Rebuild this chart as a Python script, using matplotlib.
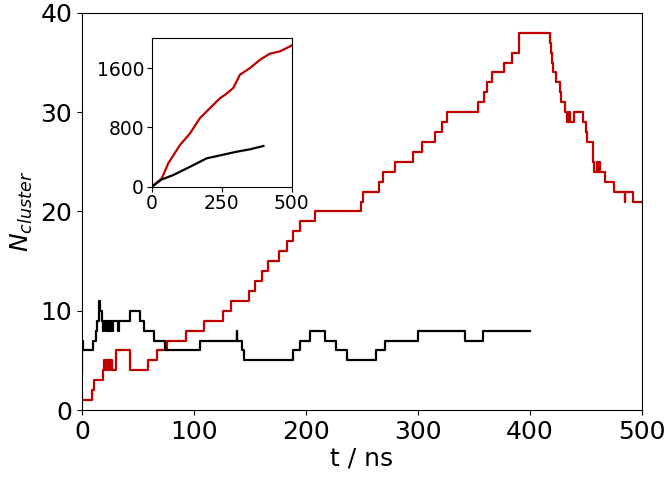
"""
Cluster count vs. time, with cumulative count inset.
"""

import numpy as np

import matplotlib
matplotlib.use('Agg')
import matplotlib.pyplot as plt

# ── Main panel: step data (time of change, new value) ──────────
red_t = [0, 8.6, 10.7, 18.5, 19.5, 21, 22.5, 24, 25, 26.5, 30.4, 42.9,
         58.6, 66.7, 76, 92.9, 108.8, 125.6, 132.7, 149, 154.5, 161,
         166.4, 176, 183.3, 188, 194.6, 208.5, 248.8, 251, 265.4, 268.5,
         279.5, 295.3, 303.3, 315.2, 321.2, 325.6, 353.3, 359, 362, 365.8,
         376.8, 384.2, 390.5, 417.9, 419, 420, 421, 423.2, 426.8, 427.5,
         431.3, 433.3, 435, 436, 439.3, 447.6, 450, 450.8, 456, 456.5,
         457.4, 460, 461, 462, 463, 467, 475.3, 484.5, 485.3, 491.7, 500]
red_n = [1, 2, 3, 4, 5, 4, 5, 4, 5, 4, 6, 4,
         5, 6, 7, 8, 9, 10, 11, 12, 13, 14,
         15, 16, 17, 18, 19, 20, 21, 22, 23, 24,
         25, 26, 27, 28, 29, 30, 31, 32, 33, 34,
         35, 36, 38, 37, 36, 35, 34, 33, 32, 31,
         30, 29, 30, 29, 30, 29, 28, 27, 26, 25,
         24, 25, 24, 25, 24, 23, 22, 21, 22, 21, 21]

black_t = [0, 0.3, 1, 9.5, 12.5, 13.7, 15.2, 16.2, 17.5, 19, 20, 21, 22,
           23, 24, 25, 26, 27, 28, 32, 33, 42.9, 51.8, 55.4, 64.3, 74,
           105, 138, 138.8, 142.6, 144.6, 188, 195, 203.6, 217, 226.5,
           236.3, 262.5, 271, 300.3, 342, 357.7, 400]
black_n = [4, 7, 6, 7, 8, 9, 11, 10, 9, 8, 9, 8, 9,
           8, 9, 8, 9, 8, 9, 8, 9, 10, 9, 8, 7, 6,
           7, 8, 7, 6, 5, 6, 7, 8, 7, 6,
           5, 6, 7, 8, 7, 8, 8]

# ── Inset: cumulative counts ───────────────────────────────────
inset_red_t = [0, 36, 59, 101, 137, 172, 208, 244, 262, 291, 315, 351,
               387, 422, 458, 494, 500]
inset_red_v = [0, 113, 316, 563, 721, 924, 1059, 1194, 1239, 1329, 1509,
               1600, 1712, 1793, 1824, 1892, 1905]
inset_black_t = [0, 36, 77, 137, 196, 250, 304, 351, 399]
inset_black_v = [0, 100, 158, 270, 383, 428, 473, 505, 550]

RED = '#c00000'

fig = plt.figure(figsize=(6.7, 4.79), dpi=100)
ax = fig.add_axes([0.1224, 0.144, 0.8356, 0.829])

ax.step(red_t, red_n, where='post', color=RED, lw=1.6)
ax.step(black_t, black_n, where='post', color='black', lw=1.6)

ax.set_xlim(0, 500)
ax.set_ylim(0, 40)
ax.set_xticks(np.arange(0, 501, 100))
ax.set_yticks(np.arange(0, 41, 10))
ax.tick_params(labelsize=18)
ax.set_xlabel('t / ns', fontsize=18, labelpad=2)
ax.set_ylabel('$N_{cluster}$', fontsize=18, labelpad=4)

# ── Inset ──────────────────────────────────────────────────────
ins = fig.add_axes([0.2264, 0.610, 0.209, 0.31])
ins.plot(inset_red_t, inset_red_v, color=RED, lw=1.6)
ins.plot(inset_black_t, inset_black_v, color='black', lw=1.6)
ins.set_xlim(0, 500)
ins.set_ylim(0, 2000)
ins.set_xticks([0, 250, 500])
ins.set_yticks([0, 800, 1600])
ins.tick_params(labelsize=13.5, pad=2)

fig.savefig('out.png', dpi=100, facecolor='white')
plt.close(fig)
